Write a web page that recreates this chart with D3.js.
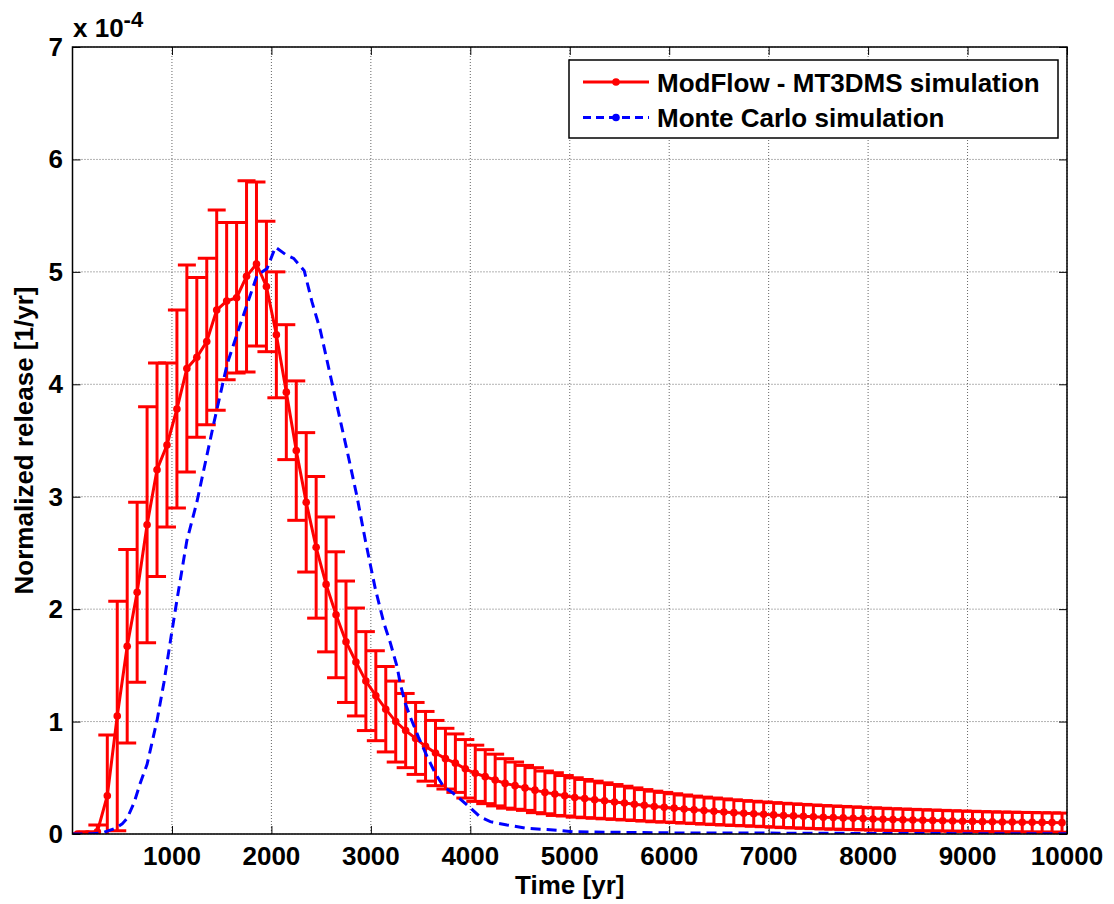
<!DOCTYPE html>
<html>
<head>
<meta charset="utf-8">
<script src="https://cdn.jsdelivr.net/npm/d3@7"></script>
<style>
  body { margin: 0; background: #fff; }
  text { font-family: "Liberation Sans", Arial, sans-serif; font-weight: bold; }
</style>
</head>
<body>
<div id="chart"></div>
<script>
// values are in units of 1e-4 1/yr (see the "x 10^-4" axis note)
let svgWidth = 1114;
let svgHeight = 904;

// ModFlow - MT3DMS: one point every 100 yr, starting at 50 yr
const mfTimes = d3.range(50, 10000, 100);
const mfMean = [
  0.00, 0.00, 0.02, 0.34, 1.05, 1.67, 2.15, 2.75, 3.24, 3.46,
  3.78, 4.14, 4.24, 4.38, 4.66, 4.74, 4.77, 4.96, 5.07, 4.87,
  4.44, 3.93, 3.41, 2.95, 2.55, 2.22, 1.95, 1.71, 1.53, 1.36,
  1.23, 1.11, 1.00, 0.92, 0.85, 0.78, 0.72, 0.67, 0.63, 0.58,
  0.54, 0.51, 0.48, 0.45, 0.43, 0.41, 0.39, 0.37, 0.355, 0.34,
  0.325, 0.315, 0.305, 0.295, 0.285, 0.275, 0.265, 0.255, 0.245, 0.238,
  0.23, 0.222, 0.215, 0.208, 0.202, 0.196, 0.19, 0.185, 0.18, 0.175,
  0.17, 0.165, 0.161, 0.157, 0.153, 0.149, 0.146, 0.143, 0.14, 0.137,
  0.134, 0.131, 0.128, 0.126, 0.124, 0.122, 0.12, 0.118, 0.116, 0.114,
  0.112, 0.11, 0.108, 0.107, 0.106, 0.105, 0.104, 0.103, 0.102, 0.101
];
const mfErr = [
  0.00, 0.02, 0.06, 0.54, 1.02, 0.86, 0.80, 1.05, 0.95, 0.73,
  0.88, 0.92, 0.71, 0.74, 0.89, 0.70, 0.67, 0.85, 0.73, 0.58,
  0.56, 0.60, 0.62, 0.62, 0.63, 0.60, 0.56, 0.54, 0.48, 0.44,
  0.40, 0.38, 0.36, 0.33, 0.32, 0.31, 0.29, 0.27, 0.26, 0.26,
  0.25, 0.24, 0.23, 0.22, 0.21, 0.20, 0.20, 0.19, 0.19, 0.18,
  0.175, 0.17, 0.165, 0.16, 0.155, 0.15, 0.145, 0.14, 0.136, 0.132,
  0.128, 0.125, 0.122, 0.12, 0.118, 0.116, 0.114, 0.112, 0.111, 0.11,
  0.109, 0.108, 0.107, 0.106, 0.105, 0.104, 0.103, 0.102, 0.101, 0.10,
  0.099, 0.098, 0.097, 0.096, 0.095, 0.094, 0.093, 0.092, 0.091, 0.09,
  0.09, 0.089, 0.089, 0.088, 0.088, 0.087, 0.087, 0.086, 0.086, 0.085
];

// Monte Carlo simulation
const mcTimes = [
  0, 100, 200, 300, 430, 500, 550, 620, 680, 750,
  850, 920, 985, 1050, 1150, 1250, 1420, 1555, 1690, 1856,
  1957, 2040, 2150, 2224, 2330, 2409, 2492, 2610, 2700, 2761,
  2861, 2945, 3045, 3130, 3196, 3263, 3300, 3347, 3397, 3480,
  3565, 3648, 3732, 3832, 3966, 4101, 4201, 4369, 4570, 4771,
  5038, 5500, 6000, 7000, 8000, 9000, 10000
];
const mcRelease = [
  0, 0, 0.002, 0.01, 0.05, 0.09, 0.14, 0.28, 0.45, 0.62,
  1.01, 1.35, 1.72, 2.08, 2.61, 2.95, 3.65, 4.18, 4.54, 4.97,
  5.03, 5.22, 5.15, 5.12, 5.01, 4.73, 4.48, 4.01, 3.65, 3.41,
  3.00, 2.61, 2.18, 1.88, 1.70, 1.49, 1.32, 1.16, 1.04, 0.86,
  0.69, 0.54, 0.42, 0.36, 0.26, 0.15, 0.11, 0.08, 0.05, 0.04,
  0.02, 0.015, 0.01, 0.008, 0.005, 0.003, 0.002
];

const xTicks = [1000, 2000, 3000, 4000, 5000, 6000, 7000, 8000, 9000, 10000];
const yTicks = [0, 1, 2, 3, 4, 5, 6, 7];
const legendLabels = ["ModFlow - MT3DMS simulation", "Monte Carlo simulation"];

createReleaseChart = function () {
  var plotLeft = 72.5, plotRight = 1067, plotTop = 47, plotBottom = 834;
  var redColor = "#ff0000";
  var blueColor = "#0000ff";

  const svg = d3
    .select("#chart")
    .append("svg")
    .attr("width", svgWidth)
    .attr("height", svgHeight);

  const x = d3.scaleLinear().domain([0, 10000]).range([plotLeft, plotRight]);
  const y = d3.scaleLinear().domain([0, 7]).range([plotBottom, plotTop]);

  svg.append("defs")
    .append("clipPath")
    .attr("id", "plotClip")
    .append("rect")
    .attr("x", plotLeft)
    .attr("y", plotTop)
    .attr("width", plotRight - plotLeft)
    .attr("height", plotBottom - plotTop);

  // dotted grid
  const grid = svg.append("g");
  grid.selectAll(".vgrid")
    .data(xTicks)
    .enter()
    .append("line")
    .attr("x1", d => x(d)).attr("x2", d => x(d))
    .attr("y1", plotTop).attr("y2", plotBottom)
    .attr("stroke", "#666")
    .attr("stroke-width", 1)
    .attr("stroke-dasharray", "1,2");
  grid.selectAll(".hgrid")
    .data(yTicks)
    .enter()
    .append("line")
    .attr("x1", plotLeft).attr("x2", plotRight)
    .attr("y1", d => y(d)).attr("y2", d => y(d))
    .attr("stroke", "#666")
    .attr("stroke-width", 1)
    .attr("stroke-dasharray", "1,2");

  // ticks on all four sides, pointing inwards
  const tickLen = 8;
  svg.append("g")
    .attr("transform", `translate(0,${plotBottom})`)
    .call(d3.axisBottom(x).tickValues(xTicks).tickSize(-tickLen).tickFormat(""));
  svg.append("g")
    .attr("transform", `translate(0,${plotTop})`)
    .call(d3.axisTop(x).tickValues(xTicks).tickSize(-tickLen).tickFormat(""));
  svg.append("g")
    .attr("transform", `translate(${plotLeft},0)`)
    .call(d3.axisLeft(y).tickValues(yTicks).tickSize(-tickLen).tickFormat(""));
  svg.append("g")
    .attr("transform", `translate(${plotRight},0)`)
    .call(d3.axisRight(y).tickValues(yTicks).tickSize(-tickLen).tickFormat(""));
  svg.selectAll(".domain").remove();
  svg.selectAll(".tick line").attr("stroke", "#000");

  // tick labels
  svg.append("g")
    .selectAll("text")
    .data(xTicks)
    .enter()
    .append("text")
    .attr("x", d => x(d))
    .attr("y", 865)
    .attr("text-anchor", "middle")
    .attr("font-size", 26)
    .text(d => d);
  svg.append("g")
    .selectAll("text")
    .data(yTicks)
    .enter()
    .append("text")
    .attr("x", 63)
    .attr("y", d => y(d) + 9)
    .attr("text-anchor", "end")
    .attr("font-size", 26)
    .text(d => d);

  // exponent note
  const expo = svg.append("text").attr("x", 73).attr("y", 37).attr("font-size", 26);
  expo.append("tspan").text("x 10");
  expo.append("tspan").attr("dy", -10).attr("font-size", 22).text("-4");

  // axis titles
  svg.append("text")
    .attr("x", (plotLeft + plotRight) / 2)
    .attr("y", 894)
    .attr("text-anchor", "middle")
    .attr("font-size", 26)
    .text("Time [yr]");
  svg.append("text")
    .attr("transform", `translate(33,${(plotTop + plotBottom) / 2}) rotate(-90)`)
    .attr("text-anchor", "middle")
    .attr("font-size", 26)
    .text("Normalized release [1/yr]");

  const plot = svg.append("g").attr("clip-path", "url(#plotClip)");

  // error bars
  const capHalf = 9;
  const bars = plot.append("g")
    .attr("stroke", redColor)
    .attr("stroke-width", 3)
    .selectAll("g")
    .data(mfTimes.map((t, i) => ({ t: t, m: mfMean[i], e: mfErr[i] })))
    .enter()
    .append("g");
  bars.append("line")
    .attr("x1", d => x(d.t)).attr("x2", d => x(d.t))
    .attr("y1", d => y(d.m - d.e)).attr("y2", d => y(d.m + d.e));
  bars.append("line")
    .attr("x1", d => x(d.t) - capHalf).attr("x2", d => x(d.t) + capHalf)
    .attr("y1", d => y(d.m + d.e)).attr("y2", d => y(d.m + d.e));
  bars.append("line")
    .attr("x1", d => x(d.t) - capHalf).attr("x2", d => x(d.t) + capHalf)
    .attr("y1", d => y(d.m - d.e)).attr("y2", d => y(d.m - d.e));

  const mfLine = d3.line().x(d => x(d[0])).y(d => y(d[1]));
  plot.append("path")
    .attr("d", mfLine(mfTimes.map((t, i) => [t, mfMean[i]])))
    .attr("fill", "none")
    .attr("stroke", redColor)
    .attr("stroke-width", 3);
  plot.selectAll(".mfdot")
    .data(mfTimes)
    .enter()
    .append("circle")
    .attr("cx", d => x(d))
    .attr("cy", (d, i) => y(mfMean[i]))
    .attr("r", 3.8)
    .attr("fill", redColor);

  // Monte Carlo curve
  plot.append("path")
    .attr("d", mfLine(mcTimes.map((t, i) => [t, mcRelease[i]])))
    .attr("fill", "none")
    .attr("stroke", blueColor)
    .attr("stroke-width", 3)
    .attr("stroke-dasharray", "10,6");

  // axes box
  svg.append("rect")
    .attr("x", plotLeft).attr("y", plotTop)
    .attr("width", plotRight - plotLeft)
    .attr("height", plotBottom - plotTop)
    .attr("fill", "none")
    .attr("stroke", "#000")
    .attr("stroke-width", 1.5);

  // legend
  const legend = svg.append("g");
  legend.append("rect")
    .attr("x", 569).attr("y", 60)
    .attr("width", 489).attr("height", 78)
    .attr("fill", "#fff")
    .attr("stroke", "#000")
    .attr("stroke-width", 1.5);
  const rows = legend.selectAll(".row")
    .data(legendLabels)
    .enter()
    .append("g")
    .attr("transform", (d, i) => `translate(0,${82 + i * 35.5})`);
  rows.append("line")
    .attr("x1", 583).attr("x2", 649)
    .attr("y1", 0).attr("y2", 0)
    .attr("stroke", (d, i) => (i === 0 ? redColor : blueColor))
    .attr("stroke-width", 3)
    .attr("stroke-dasharray", (d, i) => (i === 0 ? null : "8,5"));
  rows.append("circle")
    .attr("cx", 616).attr("cy", 0).attr("r", 3.8)
    .attr("fill", (d, i) => (i === 0 ? redColor : blueColor));
  rows.append("text")
    .attr("x", 657).attr("y", 9.5)
    .attr("font-size", 26)
    .text(d => d);
};

createReleaseChart();
</script>
</body>
</html>
